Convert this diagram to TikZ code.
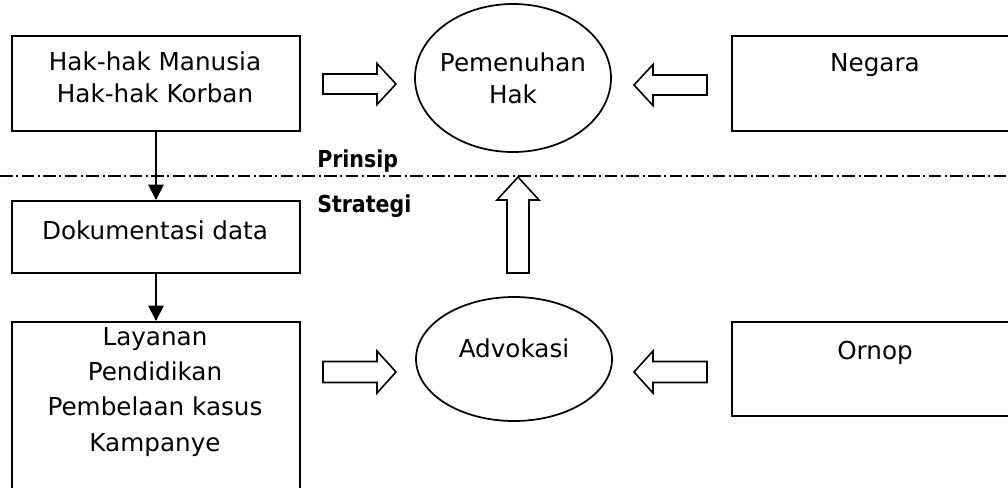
\documentclass[tikz,border=0pt]{standalone}
\usepackage{fontspec}
\setmainfont{DejaVu Sans}
\newfontfamily\tagfont{DejaVu Sans}[FakeStretch=0.88]
\usetikzlibrary{arrows.meta,shapes.geometric}

\begin{document}
\begin{tikzpicture}[x=0.75pt,y=-0.75pt,
  box/.style={draw, line width=1.5pt, rectangle, inner sep=0pt, anchor=north west},
  oval/.style={draw, line width=1.3pt, ellipse, inner sep=0pt},
  txt/.style={inner sep=0pt, anchor=north, align=center, font=\fontsize{18.5}{22}\selectfont},
  tag/.style={inner sep=0pt, anchor=base west, font=\tagfont\bfseries\fontsize{17.5}{20}\selectfont},
  flow/.style={-{Triangle[length=11.5pt,width=11.5pt]}, line width=1.3pt},
  divider/.style={line width=1.4pt, dash pattern=on 9.5pt off 2.6pt on 1.5pt off 2.6pt},
  pics/blockarrow/.style n args={4}{code={
    \draw[line width=1.2pt, line join=miter]
      (0,-#3) -- ({#1-#2},-#3) -- ({#1-#2},-#4) -- (#1,0)
      -- ({#1-#2},#4) -- ({#1-#2},#3) -- (0,#3) -- cycle;}}
]
\clip (0,0) rectangle (1008,487);

% principle level
\node[box, minimum width=216pt, minimum height=71.25pt] (hak) at (11,35) {};
\node[txt, font=\fontsize{18.5}{24}\selectfont] (hakT) at (155,51) {Hak-hak Manusia\\Hak-hak Korban};

\node[oval, minimum width=147pt, minimum height=111pt] (pem) at (513,78) {};
\node[txt, font=\fontsize{18.5}{24}\selectfont] (pemT) at (513,52) {Pemenuhan\\Hak};

\node[box, minimum width=216pt, minimum height=71.25pt] (neg) at (731,35) {};
\node[txt] (negT) at (875,53) {Negara};

% divider between principle and strategy
\coordinate (dl) at (0,176);
\coordinate (dr) at (1008,176);
\draw[divider] (dl) -- (dr);
\node[tag] (prinsip) at (317,167) {Prinsip};
\node[tag] (strategi) at (317,212) {Strategi};

% strategy level
\node[box, minimum width=216pt, minimum height=54pt] (dok) at (11,200) {};
\node[txt] (dokT) at (155,220) {Dokumentasi data};

\node[box, minimum width=216pt, minimum height=150pt] (lay) at (11,321) {};
\node[txt, font=\fontsize{18.5}{26.5}\selectfont] (layT) at (155,327) {Layanan\\Pendidikan\\Pembelaan kasus\\Kampanye};

\node[oval, minimum width=147pt, minimum height=93pt] (adv) at (514,359) {};
\node[txt] (advT) at (514,338) {Advokasi};

\node[box, minimum width=216pt, minimum height=70.5pt] (orn) at (731,321) {};
\node[txt] (ornT) at (875,341) {Ornop};

% connectors
\draw[flow] (hak.south) -- (dok.north);
\draw[flow] (dok.south) -- (lay.north);

\pic at (323,84) {blockarrow={73}{19}{10}{20.5}};
\pic[rotate=180] at (707,85) {blockarrow={73}{19}{10}{20.5}};
\pic at (323,372) {blockarrow={73}{19}{10.5}{21}};
\pic[rotate=180] at (707,372) {blockarrow={73}{19}{10.5}{21}};
\pic[rotate=90] at (518,273) {blockarrow={96}{23}{11}{21}};
\end{tikzpicture}
\end{document}
